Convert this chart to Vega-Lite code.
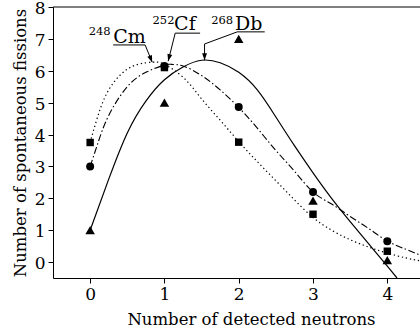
{
  "$schema": "https://vega.github.io/schema/vega-lite/v6.json",
  "width": 367,
  "height": 271,
  "autosize": {"type": "none"},
  "padding": {"left": 53, "top": 7, "right": 0, "bottom": 53},
  "background": "white",
  "config": {
    "view": {"stroke": null},
    "font": "DejaVu Serif",
    "axis": {
      "labelFont": "DejaVu Serif",
      "titleFont": "DejaVu Serif",
      "labelFontSize": 17,
      "titleFontSize": 16.5,
      "titleFontWeight": "normal",
      "labelColor": "black",
      "titleColor": "black",
      "domainColor": "black",
      "tickColor": "black",
      "domainWidth": 1,
      "tickWidth": 1,
      "tickSize": 5,
      "labelPadding": 3,
      "grid": false
    }
  },
  "datasets": {
    "curves": [
      {"s": "Cm", "x": 0, "y": 3.75}, {"s": "Cm", "x": 0.1, "y": 4.55}, {"s": "Cm", "x": 0.25, "y": 5.4},
      {"s": "Cm", "x": 0.5, "y": 6.05}, {"s": "Cm", "x": 0.75, "y": 6.25}, {"s": "Cm", "x": 0.9, "y": 6.27},
      {"s": "Cm", "x": 1.0, "y": 6.2}, {"s": "Cm", "x": 1.25, "y": 5.8}, {"s": "Cm", "x": 1.5, "y": 5.12},
      {"s": "Cm", "x": 1.75, "y": 4.45}, {"s": "Cm", "x": 2.0, "y": 3.78}, {"s": "Cm", "x": 2.25, "y": 3.15},
      {"s": "Cm", "x": 2.5, "y": 2.55}, {"s": "Cm", "x": 2.75, "y": 1.95}, {"s": "Cm", "x": 3.0, "y": 1.4},
      {"s": "Cm", "x": 3.25, "y": 1.0}, {"s": "Cm", "x": 3.5, "y": 0.7}, {"s": "Cm", "x": 3.75, "y": 0.47},
      {"s": "Cm", "x": 4.0, "y": 0.28}, {"s": "Cm", "x": 4.25, "y": 0.13}, {"s": "Cm", "x": 4.44, "y": 0.04},
      {"s": "Cf", "x": 0, "y": 3.0}, {"s": "Cf", "x": 0.1, "y": 3.7}, {"s": "Cf", "x": 0.25, "y": 4.6},
      {"s": "Cf", "x": 0.5, "y": 5.5}, {"s": "Cf", "x": 0.75, "y": 5.95}, {"s": "Cf", "x": 1.0, "y": 6.18},
      {"s": "Cf", "x": 1.1, "y": 6.2}, {"s": "Cf", "x": 1.25, "y": 6.15}, {"s": "Cf", "x": 1.5, "y": 5.85},
      {"s": "Cf", "x": 1.75, "y": 5.4}, {"s": "Cf", "x": 2.0, "y": 4.85}, {"s": "Cf", "x": 2.25, "y": 4.2},
      {"s": "Cf", "x": 2.5, "y": 3.5}, {"s": "Cf", "x": 2.75, "y": 2.85}, {"s": "Cf", "x": 3.0, "y": 2.2},
      {"s": "Cf", "x": 3.25, "y": 1.82}, {"s": "Cf", "x": 3.5, "y": 1.43}, {"s": "Cf", "x": 3.75, "y": 1.05},
      {"s": "Cf", "x": 4.0, "y": 0.66}, {"s": "Cf", "x": 4.25, "y": 0.4}, {"s": "Cf", "x": 4.44, "y": 0.22},
      {"s": "Db", "x": 0, "y": 1.0}, {"s": "Db", "x": 0.25, "y": 2.6}, {"s": "Db", "x": 0.5, "y": 4.05},
      {"s": "Db", "x": 0.75, "y": 5.05}, {"s": "Db", "x": 1.0, "y": 5.72}, {"s": "Db", "x": 1.25, "y": 6.12},
      {"s": "Db", "x": 1.5, "y": 6.33}, {"s": "Db", "x": 1.75, "y": 6.25}, {"s": "Db", "x": 2.0, "y": 5.95},
      {"s": "Db", "x": 2.25, "y": 5.4}, {"s": "Db", "x": 2.5, "y": 4.55}, {"s": "Db", "x": 2.75, "y": 3.65},
      {"s": "Db", "x": 3.0, "y": 2.8}, {"s": "Db", "x": 3.25, "y": 2.0}, {"s": "Db", "x": 3.5, "y": 1.27},
      {"s": "Db", "x": 3.75, "y": 0.57}, {"s": "Db", "x": 4.0, "y": -0.13}, {"s": "Db", "x": 4.13, "y": -0.5}
    ],
    "pts": [
      {"s": "Cm", "x": 0, "y": 3.75}, {"s": "Cm", "x": 1, "y": 6.1}, {"s": "Cm", "x": 2, "y": 3.76},
      {"s": "Cm", "x": 3, "y": 1.5}, {"s": "Cm", "x": 4, "y": 0.34},
      {"s": "Cf", "x": 0, "y": 3.0}, {"s": "Cf", "x": 1, "y": 6.15}, {"s": "Cf", "x": 2, "y": 4.86},
      {"s": "Cf", "x": 3, "y": 2.2}, {"s": "Cf", "x": 4, "y": 0.65},
      {"s": "Db", "x": 0, "y": 1.0}, {"s": "Db", "x": 1, "y": 5.0}, {"s": "Db", "x": 2, "y": 7.0},
      {"s": "Db", "x": 3, "y": 1.93}, {"s": "Db", "x": 4, "y": 0.06}
    ],
    "ann": [
      {"g": "Cm", "o": 1, "x": 0.31, "y": 6.81}, {"g": "Cm", "o": 2, "x": 0.74, "y": 6.81}, {"g": "Cm", "o": 3, "x": 0.835, "y": 6.27},
      {"g": "Cf", "o": 1, "x": 1.48, "y": 7.18}, {"g": "Cf", "o": 2, "x": 1.145, "y": 7.18}, {"g": "Cf", "o": 3, "x": 1.05, "y": 6.3},
      {"g": "Db", "o": 1, "x": 2.35, "y": 7.22}, {"g": "Db", "o": 2, "x": 1.98, "y": 7.22}, {"g": "Db", "o": 3, "x": 1.54, "y": 6.84}, {"g": "Db", "o": 4, "x": 1.54, "y": 6.33}
    ],
    "heads": [
      {"h": "Cm", "x": 0.835, "y": 6.26}, {"h": "Cf", "x": 1.05, "y": 6.3}, {"h": "Db", "x": 1.54, "y": 6.33}
    ],
    "labels": [
      {"k": "sup", "t": "248", "x": -0.02, "y": 7.12}, {"k": "main", "t": "Cm", "x": 0.31, "y": 6.88},
      {"k": "sup", "t": "252", "x": 0.84, "y": 7.47}, {"k": "main", "t": "Cf", "x": 1.13, "y": 7.27},
      {"k": "sup", "t": "268", "x": 1.63, "y": 7.47}, {"k": "main", "t": "Db", "x": 1.95, "y": 7.27}
    ]
  },
  "encoding": {
    "x": {
      "field": "x", "type": "quantitative",
      "scale": {"domain": [-0.5, 4.44], "nice": false, "zero": false},
      "axis": {"values": [0, 1, 2, 3, 4], "format": "d", "title": "Number of detected neutrons", "titleX": 198, "titleY": 46, "titleBaseline": "alphabetic"}
    },
    "y": {
      "field": "y", "type": "quantitative",
      "scale": {"domain": [-0.5, 8], "nice": false, "zero": false},
      "axis": {"values": [0, 1, 2, 3, 4, 5, 6, 7, 8], "format": "d", "labelOffset": 1.5, "title": "Number of spontaneous fissions", "titleX": -28, "titleBaseline": "alphabetic"}
    }
  },
  "layer": [
    {
      "data": {"values": [{"x": -0.5, "x2": 4.44, "y": 8}]},
      "mark": {"type": "rule", "color": "black", "strokeWidth": 1},
      "encoding": {"x2": {"field": "x2"}}
    },
    {
      "data": {"name": "curves"},
      "transform": [{"filter": "datum.s === 'Cm'"}],
      "mark": {"type": "line", "color": "black", "strokeWidth": 1.2, "strokeDash": [1.3, 2.8], "interpolate": "natural", "clip": true},
      "encoding": {}
    },
    {
      "data": {"name": "curves"},
      "transform": [{"filter": "datum.s === 'Cf'"}],
      "mark": {"type": "line", "color": "black", "strokeWidth": 1.1, "strokeDash": [7, 2.5, 1.5, 2.5], "interpolate": "natural", "clip": true},
      "encoding": {}
    },
    {
      "data": {"name": "curves"},
      "transform": [{"filter": "datum.s === 'Db'"}],
      "mark": {"type": "line", "color": "black", "strokeWidth": 1.2, "interpolate": "natural", "clip": true},
      "encoding": {}
    },
    {
      "data": {"name": "pts"},
      "transform": [{"filter": "datum.s === 'Cm'"}],
      "mark": {"type": "point", "shape": "square", "filled": true, "color": "black", "opacity": 1, "size": 55}
    },
    {
      "data": {"name": "pts"},
      "transform": [{"filter": "datum.s === 'Db'"}],
      "mark": {"type": "point", "shape": "triangle-up", "filled": true, "color": "black", "opacity": 1, "size": 90}
    },
    {
      "data": {"name": "pts"},
      "transform": [{"filter": "datum.s === 'Cf'"}],
      "mark": {"type": "point", "shape": "circle", "filled": true, "color": "black", "opacity": 1, "size": 64}
    },
    {
      "data": {"name": "ann"},
      "mark": {"type": "line", "color": "black", "strokeWidth": 1},
      "encoding": {"detail": {"field": "g"}, "order": {"field": "o"}}
    },
    {
      "data": {"name": "heads"},
      "transform": [{"filter": "datum.h === 'Cm'"}],
      "mark": {"type": "point", "shape": "M0,0L-0.35,-1L0.35,-1Z", "filled": true, "color": "black", "opacity": 1, "size": 196, "angle": 339}
    },
    {
      "data": {"name": "heads"},
      "transform": [{"filter": "datum.h === 'Cf'"}],
      "mark": {"type": "point", "shape": "M0,0L-0.35,-1L0.35,-1Z", "filled": true, "color": "black", "opacity": 1, "size": 196, "angle": 14}
    },
    {
      "data": {"name": "heads"},
      "transform": [{"filter": "datum.h === 'Db'"}],
      "mark": {"type": "point", "shape": "M0,0L-0.35,-1L0.35,-1Z", "filled": true, "color": "black", "opacity": 1, "size": 196, "angle": 0}
    },
    {
      "data": {"name": "labels"},
      "transform": [{"filter": "datum.k === 'sup'"}],
      "mark": {"type": "text", "align": "left", "baseline": "alphabetic", "fontSize": 11.5, "font": "DejaVu Serif", "color": "black"},
      "encoding": {"text": {"field": "t"}}
    },
    {
      "data": {"name": "labels"},
      "transform": [{"filter": "datum.k === 'main'"}],
      "mark": {"type": "text", "align": "left", "baseline": "alphabetic", "fontSize": 19, "font": "DejaVu Serif", "color": "black"},
      "encoding": {"text": {"field": "t"}}
    }
  ]
}
